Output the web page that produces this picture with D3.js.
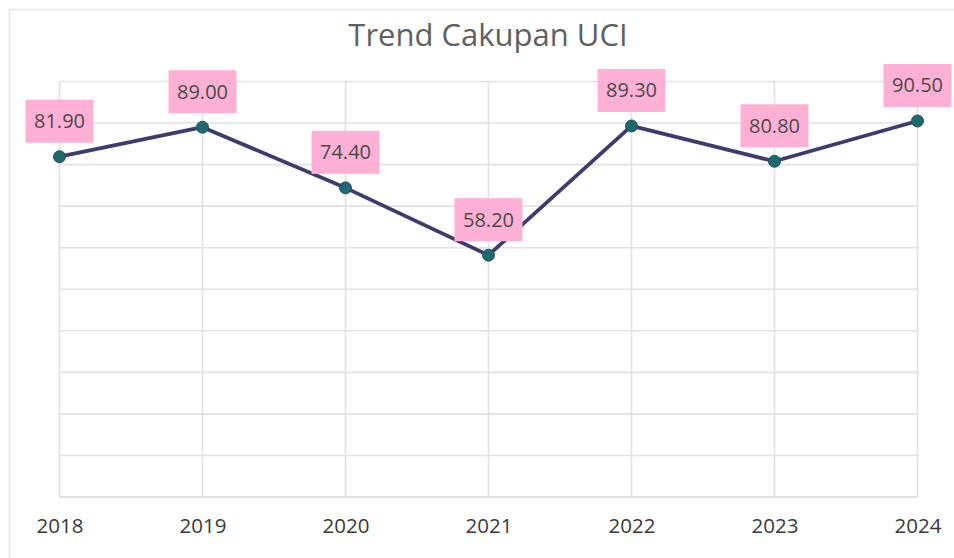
<!DOCTYPE html>
<html>
<head>
<meta charset="utf-8">
<script src="https://cdn.jsdelivr.net/npm/d3@7"></script>
<style>
  html, body { margin: 0; padding: 0; background: #fff; }
  svg { display: block; }
</style>
</head>
<body>
<svg id="chart" width="954" height="558"></svg>
<script>
// Cakupan UCI per tahun (%)
const years = ["2018", "2019", "2020", "2021", "2022", "2023", "2024"];
const coverage = [81.90, 89.00, 74.40, 58.20, 89.30, 80.80, 90.50];
const yTicks = [0, 10, 20, 30, 40, 50, 60, 70, 80, 90, 100];
const title = "Trend Cakupan UCI";

const svg = d3.select("#chart");
const W = 954, H = 558;
const plot = { left: 59.5, right: 917.5, top: 81.5, bottom: 497 };

const data = years.map((y, i) => ({ year: y, value: coverage[i] }));

const x = d3.scalePoint().domain(years).range([plot.left, plot.right]);
const y = d3.scaleLinear().domain([0, 100]).range([plot.bottom, plot.top]);

// chart frame
svg.append("rect")
  .attr("x", 9.5).attr("y", 9.5)
  .attr("width", W).attr("height", H)
  .attr("fill", "#fff").attr("stroke", "#e3e3e3").attr("stroke-width", 1.5);

// title
svg.append("text")
  .attr("x", 488).attr("y", 46)
  .attr("text-anchor", "middle")
  .attr("font-family", "'Open Sans', sans-serif")
  .attr("font-size", 31)
  .attr("fill", "#606060")
  .text(title);

// horizontal gridlines
svg.append("g")
  .selectAll("line")
  .data(yTicks)
  .join("line")
  .attr("x1", plot.left).attr("x2", plot.right)
  .attr("y1", d => y(d)).attr("y2", d => y(d))
  .attr("stroke", d => d === 0 ? "#d4d4d4" : "#e2e2e2")
  .attr("stroke-width", 1.6);

// vertical gridlines at each year
svg.append("g")
  .selectAll("line")
  .data(years)
  .join("line")
  .attr("x1", d => x(d)).attr("x2", d => x(d))
  .attr("y1", plot.top).attr("y2", plot.bottom)
  .attr("stroke", "#e2e2e2")
  .attr("stroke-width", 1.6);

// x axis labels
const xAxis = d3.axisBottom(x).tickSize(0).tickPadding(0);
const gx = svg.append("g")
  .attr("transform", `translate(0,${plot.bottom})`)
  .call(xAxis);
gx.select(".domain").remove();
gx.selectAll("text")
  .attr("y", 36)
  .attr("dy", 0)
  .attr("font-family", "'Open Sans', sans-serif")
  .attr("font-size", 20.5)
  .attr("fill", "#3a3a3a");

// trend line
const line = d3.line().x(d => x(d.year)).y(d => y(d.value));
svg.append("path")
  .datum(data)
  .attr("d", line)
  .attr("fill", "none")
  .attr("stroke", "#3e3c6c")
  .attr("stroke-width", 3.8)
  .attr("stroke-linejoin", "round");

// markers
svg.append("g")
  .selectAll("circle")
  .data(data)
  .join("circle")
  .attr("cx", d => x(d.year))
  .attr("cy", d => y(d.value))
  .attr("r", 6)
  .attr("fill", "#1c6a6f")
  .attr("stroke", "#2a4f5e")
  .attr("stroke-width", 1);

// value labels
const boxW = 68, boxH = 43, gap = 14;
const labels = svg.append("g")
  .selectAll("g")
  .data(data)
  .join("g")
  .attr("transform", d => `translate(${x(d.year)},${y(d.value) - gap - boxH})`);
labels.append("rect")
  .attr("x", -boxW / 2).attr("y", 0)
  .attr("width", boxW).attr("height", boxH)
  .attr("fill", "#ffb1d5");
labels.append("text")
  .attr("x", 0).attr("y", 28.5)
  .attr("text-anchor", "middle")
  .attr("font-family", "'Open Sans', sans-serif")
  .attr("font-size", 20)
  .attr("fill", "#4a4a4a")
  .text(d => d3.format(".2f")(d.value));
</script>
</body>
</html>
